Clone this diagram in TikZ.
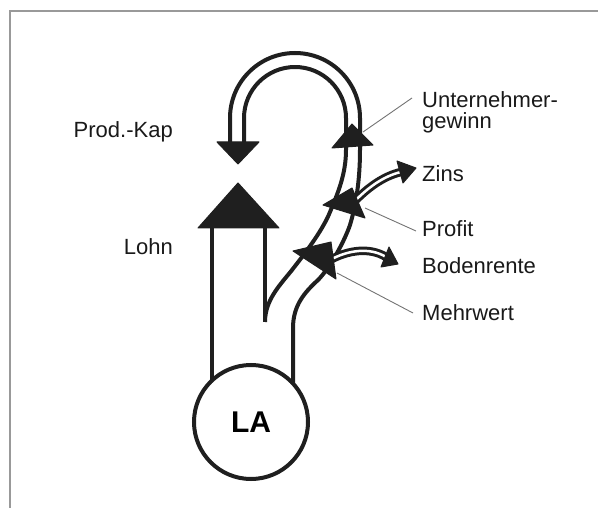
\documentclass[tikz,border=0pt]{standalone}
\usepackage{fontspec}
\setmainfont{Liberation Sans}
\begin{document}
\begin{tikzpicture}[x=1pt,y=-1pt,
  flow/.style={line width=4pt, line cap=butt, line join=round, draw=black!88},
  head/.style={fill=black!88, draw=black!88, line width=1pt, line join=round},
  thinband/.style={double=white, draw=black!88, line width=3pt, double distance=2.5pt},
  leader/.style={draw=black!55, line width=0.9pt},
  lbl/.style={font=\fontsize{22}{22}\selectfont, text=black!90, inner sep=0pt},
  frame/.style={draw=black!40, line width=1.5pt}]
\useasboundingbox (0,0) rectangle (598,508);
\draw[frame] (10,508) -- (10,11) -- (598,11);

% LA circle
\node[circle, draw=black!88, line width=4pt, minimum size=114pt, inner sep=0pt,
      font=\fontsize{30}{30}\selectfont\bfseries] (la) at (251,422) {LA};

% Lohn branch
\coordinate (lohnL0) at (212,380);
\coordinate (lohnL1) at (212,228);
\coordinate (lohnR1) at (265,228);
\coordinate (fork) at (265,322);
\draw[flow] (lohnL0) -- (lohnL1);
\draw[flow] (lohnR1) -- (fork);

% Mehrwert band, inner (left) line
\draw[flow] (fork) .. controls (265,300) and (280,285) .. (292,270)
  .. controls (302,257) and (322,232) .. (330,212)
  .. controls (337,195) and (346,175) .. (346,150) -- (346,118)
  arc[start angle=0, end angle=-180, radius=51] -- (244,142);
% Mehrwert band, outer (right) line
\coordinate (mwR0) at (293,383);
\draw[flow] (mwR0) -- (293,328) .. controls (293,305) and (305,292) .. (318,280)
  .. controls (328,270) and (343,245) .. (350,225)
  .. controls (356,205) and (360,180) .. (360,150) -- (360,118)
  arc[start angle=0, end angle=-180, radius=65] -- (230,142);

% Zins and Bodenrente branches
\coordinate (zinsS) at (352,204);
\coordinate (zinsE) at (401,172);
\draw[thinband] (zinsS) .. controls (368,187) and (384,176) .. (zinsE);
\fill[head] (397,161) -- (416,168) -- (403,183) -- cycle;
\coordinate (bodS) at (330,260);
\coordinate (bodE) at (386,257);
\draw[thinband] (bodS) .. controls (348,250) and (370,247) .. (bodE);
\fill[head] (389,247) -- (398,264) -- (381,267) -- cycle;

% arrow heads on the bands
\filldraw[head] (198,228) -- (279,228) -- (238,183) -- cycle;
\filldraw[head] (217,142) -- (259,142) -- (238,164) -- cycle;
\filldraw[head] (332,148) -- (373,145) -- (352,124) -- cycle;
\filldraw[head] (323,205) -- (365,218) -- (352,188) -- cycle;
\filldraw[head] (293,251) -- (336,279) -- (331,242) -- cycle;

% labels
\node[lbl, anchor=base west] (ug) at (422,108) {Unternehmer-};
\node[lbl, anchor=base west] (gw) at (422,129) {gewinn};
\node[lbl, anchor=base west] (zins) at (422,182) {Zins};
\node[lbl, anchor=base west] (profit) at (422,237) {Profit};
\node[lbl, anchor=base west] (boden) at (422,273) {Bodenrente};
\node[lbl, anchor=base west] (mw) at (422,320) {Mehrwert};
\node[lbl, anchor=base east] (pk) at (173,138) {Prod.-Kap};
\node[lbl, anchor=base east] (lohn) at (173,255) {Lohn};

% leader lines
\coordinate (ugA) at (363,132); \coordinate (ugB) at (412,98);
\coordinate (prA) at (365,208); \coordinate (prB) at (416,231);
\coordinate (mwA) at (337,273); \coordinate (mwB) at (413,313);
\draw[leader] (ugA) -- (ugB);
\draw[leader] (prA) -- (prB);
\draw[leader] (mwA) -- (mwB);
\end{tikzpicture}
\end{document}
